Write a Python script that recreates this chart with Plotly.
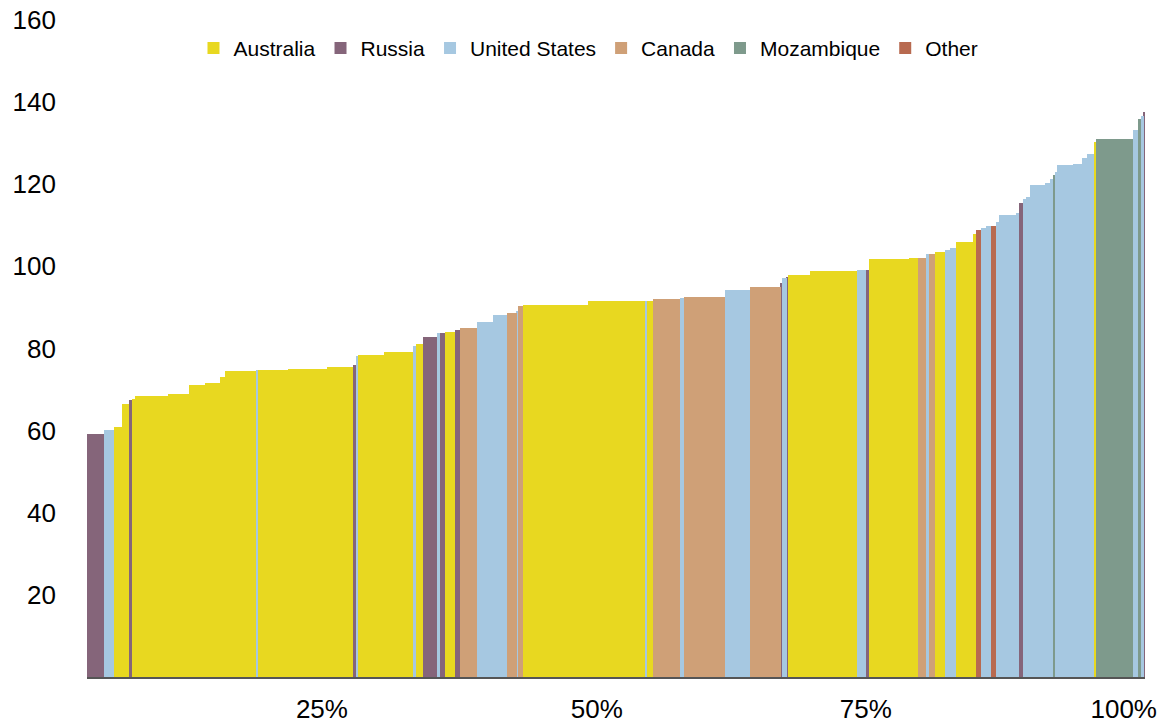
import plotly.graph_objects as go

# Supply (cost) curve: each bar is one mine/project, width = capacity share, height = cost
countries = ["Russia", "United States", "Australia", "Australia", "Russia", "Australia", "Australia", "Australia",
             "Australia", "Australia", "Australia", "Australia", "United States", "Australia", "Australia", "Australia",
             "Australia", "Russia", "United States", "Australia", "Australia", "United States", "Australia", "Russia",
             "United States", "Russia", "Australia", "Russia", "Canada", "United States", "United States", "Canada",
             "United States", "Canada", "Australia", "Australia", "United States", "Australia", "Canada", "United States",
             "Canada", "United States", "Canada", "Russia", "United States", "Russia", "Australia", "Australia",
             "United States", "Russia", "Australia", "Australia", "Canada", "United States", "Canada", "Australia",
             "United States", "United States", "Australia", "Australia", "Other", "United States", "United States", "Other",
             "United States", "United States", "United States", "Russia", "United States", "United States", "United States",
             "United States", "United States", "Mozambique", "United States", "United States", "United States",
             "United States", "United States", "Australia", "Mozambique", "United States", "Mozambique", "United States",
             "Russia"]

capacity = [17, 10, 8.3, 6.4, 3, 3.3, 33.3, 20.7,
            16, 15, 5, 32, 1.3, 29.4, 10, 29,
            26.6, 3.4, 1.6, 25.4, 29.6, 2.7, 7.3, 14,
            2.7, 5, 10, 5, 16.7, 16, 14.6, 9.4,
            1.6, 5, 65, 57.4, 1, 6.6, 26.7, 4,
            41, 25, 30.7, 1.6, 4.4, 1, 22.3, 47.7,
            8.3, 3.3, 40, 9, 8.4, 2.6, 5.7, 10.7,
            5, 5.3, 17.3, 2.7, 5.3, 5.4, 4.3, 5,
            3.3, 16.7, 3.3, 4, 3.4, 3.3, 15,
            5, 3.3, 1.7, 2.7, 15.6, 9.4,
            5, 6.6, 1.7, 37.3, 5, 2.7, 3,
            1.3]

cost = [59.2, 60.2, 61.0, 66.6, 67.4, 67.6, 68.5, 69.0,
        71.2, 71.7, 73.0, 74.4, 74.8, 74.8, 74.9, 75.1,
        75.5, 76.0, 78.1, 78.5, 79.2, 80.7, 81.1, 82.9,
        83.7, 83.8, 83.9, 84.5, 84.9, 86.4, 88.2, 88.7,
        89.1, 90.3, 90.7, 91.5, 91.5, 91.5, 92.0, 92.3,
        92.6, 94.2, 95.0, 96.0, 97.2, 97.5, 97.9, 98.8,
        99.0, 99.0, 101.7, 102.0, 102.1, 103.1, 103.1, 103.5,
        104.1, 104.4, 105.9, 107.8, 108.8, 109.3, 109.8, 109.8,
        110.7, 112.4, 113.1, 115.4, 116.3, 116.9, 119.8,
        120.4, 121.2, 122.3, 122.9, 124.6, 125.0,
        126.5, 127.3, 130.2, 131.0, 133.2, 135.8, 136.6,
        137.7]

legend_order = ["Australia", "Russia", "United States", "Canada", "Mozambique", "Other"]
colors = {"Australia": "#E8D820", "Russia": "#85657A", "United States": "#A6C8E1",
          "Canada": "#CFA077", "Mozambique": "#7E9A8C", "Other": "#B86A50"}

tick_positions = [235, 510, 779, 1037]
tick_labels = ["25%", "50%", "75%", "100%"]
y_ticks = [20, 40, 60, 80, 100, 120, 140, 160]

# cumulative positions
starts = []
acc = 0.0
for w in capacity:
    starts.append(acc)
    acc += w
total = acc

fig = go.Figure()
for c in legend_order:
    idx = [i for i, k in enumerate(countries) if k == c]
    fig.add_trace(go.Bar(
        x=[starts[i] + capacity[i] / 2 for i in idx],
        y=[cost[i] for i in idx],
        width=[capacity[i] for i in idx],
        name=c,
        marker=dict(color=colors[c], line=dict(width=0)),
    ))

# the page body has an 8px margin, so the figure is sized/offset to compensate
fig.update_layout(
    width=1163, height=713,
    margin=dict(l=79, r=26, t=12, b=44, autoexpand=False),
    plot_bgcolor="white", paper_bgcolor="white",
    barmode="overlay", bargap=0,
    font=dict(family="Liberation Sans, Arial, sans-serif", size=26, color="#000000"),
    legend=dict(orientation="h", x=0.474, y=0.957, xanchor="center", yanchor="middle",
                font=dict(size=21), itemwidth=30, bgcolor="rgba(0,0,0,0)", tracegroupgap=0),
    showlegend=True,
)
fig.update_xaxes(range=[0, total], tickvals=tick_positions, ticktext=tick_labels, automargin=False,
                 showgrid=False, zeroline=False, showline=True, linecolor="#555555", linewidth=2,
                 ticks="", ticklabelstandoff=8, ticklabeloverflow="allow")
fig.update_yaxes(range=[0, 160], tickvals=y_ticks, showgrid=False, zeroline=False, automargin=False,
                 showline=False, ticks="", ticklabelstandoff=30, ticklabeloverflow="allow")

fig.write_html("out.html")
